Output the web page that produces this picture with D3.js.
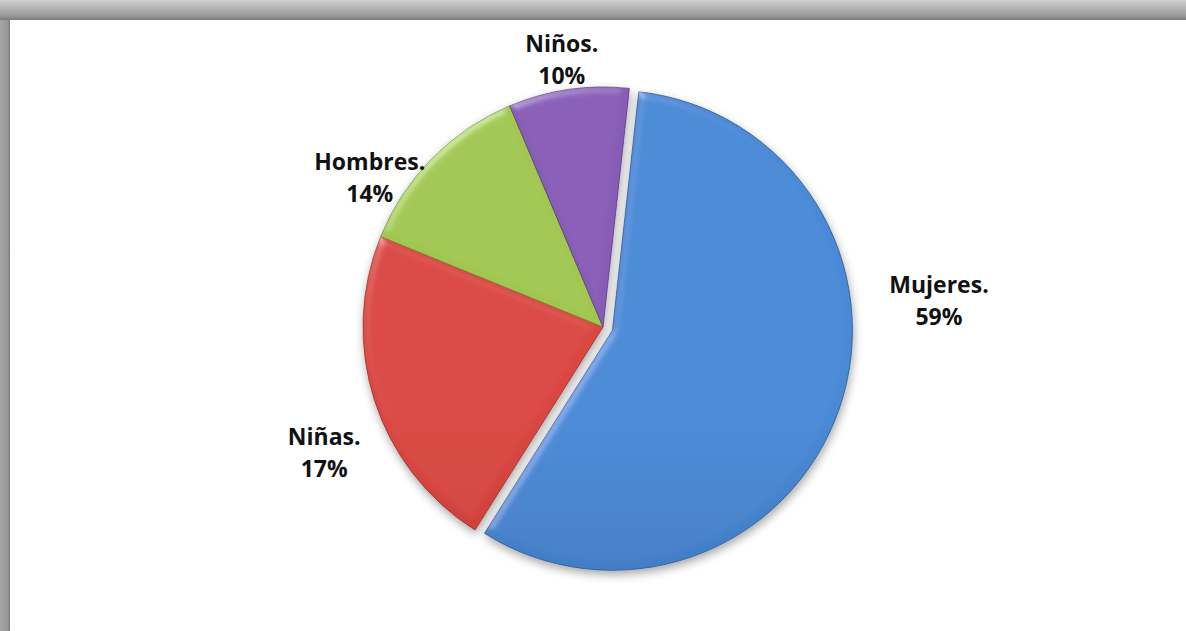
<!DOCTYPE html>
<html><head><meta charset="utf-8">
<script src="https://cdn.jsdelivr.net/npm/d3@7"></script>
<style>html,body{margin:0;padding:0;background:#fff;overflow:hidden}</style>
</head><body>
<script>
// ---- data (slice shares as drawn; printed percentage labels) ----
const categories = ["Mujeres.", "Niñas.", "Hombres.", "Niños."];
const values = [57.2, 22.2, 12.5, 8.1];
const pctLabels = ["59%", "17%", "14%", "10%"];

// ---- layout / style ----
const W = 1186, H = 631;
const cx = 603, cy = 327, R = 240;
const explode = [10, 0, 0, 0];
const colors = [
  ["#4889d6", "#3566a6"],
  ["#d94640", "#b93531"],
  ["#a2c751", "#86aa3a"],
  ["#875cb6", "#6a4596"]
];
const labelAngleShift = [-23.7, -6.5, -12, -0.5]; // degrees relative to slice mid-angle
const labelRadius = [337, 306, 277, 270];

const svg = d3.select("body").append("svg").attr("width", W).attr("height", H);
const defs = svg.append("defs");

// frame gradients
const gTop = defs.append("linearGradient").attr("id","gTop").attr("x1",0).attr("y1",0).attr("x2",0).attr("y2",1);
gTop.append("stop").attr("offset","0%").attr("stop-color","#d0d0d0");
gTop.append("stop").attr("offset","80%").attr("stop-color","#989898");
gTop.append("stop").attr("offset","100%").attr("stop-color","#7a7a7a");
const gLeft = defs.append("linearGradient").attr("id","gLeft").attr("x1",0).attr("y1",0).attr("x2",1).attr("y2",0);
gLeft.append("stop").attr("offset","0%").attr("stop-color","#a6a6a6");
gLeft.append("stop").attr("offset","75%").attr("stop-color","#979797");
gLeft.append("stop").attr("offset","100%").attr("stop-color","#7a7a7a");

svg.append("rect").attr("x",0).attr("y",0).attr("width",10).attr("height",H).attr("fill","url(#gLeft)");
svg.append("rect").attr("x",0).attr("y",0).attr("width",W).attr("height",20).attr("fill","url(#gTop)");
svg.append("rect").attr("x",10).attr("y",20).attr("width",W-10).attr("height",H-20).attr("fill","#fff");

// slice gradients
colors.forEach((c,i)=>{
  const g = defs.append("linearGradient").attr("id","sg"+i).attr("gradientUnits","userSpaceOnUse")
    .attr("x1",0).attr("y1",cy-R).attr("x2",0).attr("y2",cy+R);
  g.append("stop").attr("offset","0%").attr("stop-color",c[0]);
  g.append("stop").attr("offset","100%").attr("stop-color",c[1]);
});

// bevel filter
const bev = defs.append("filter").attr("id","bevel").attr("x","-10%").attr("y","-10%").attr("width","120%").attr("height","120%");
bev.append("feGaussianBlur").attr("in","SourceAlpha").attr("stdDeviation",4).attr("result","blur");
const spec = bev.append("feSpecularLighting").attr("in","blur").attr("surfaceScale",3)
  .attr("specularConstant",0.6).attr("specularExponent",30).attr("lighting-color","#ffffff").attr("result","spec");
spec.append("feDistantLight").attr("azimuth",235).attr("elevation",40);
bev.append("feComposite").attr("in","spec").attr("in2","SourceAlpha").attr("operator","in").attr("result","specIn");
bev.append("feComposite").attr("in","SourceGraphic").attr("in2","specIn").attr("operator","arithmetic")
  .attr("k1",0).attr("k2",1).attr("k3",0.35).attr("k4",0);

// shadow filter
const sh = defs.append("filter").attr("id","shadow").attr("x","-20%").attr("y","-20%").attr("width","140%").attr("height","140%");
sh.append("feGaussianBlur").attr("in","SourceAlpha").attr("stdDeviation",5);
sh.append("feOffset").attr("dx",1).attr("dy",4).attr("result","ob");
sh.append("feComponentTransfer").append("feFuncA").attr("type","linear").attr("slope",0.35);
const mg = sh.append("feMerge");
mg.append("feMergeNode");
mg.append("feMergeNode").attr("in","SourceGraphic");

const start = 6.3 * Math.PI / 180;
const pie = d3.pie().sort(null).startAngle(start).endAngle(start + 2*Math.PI);
const arcs = pie(values);
const arc = d3.arc().innerRadius(0).outerRadius(R);

const gPie = svg.append("g").attr("transform",`translate(${cx},${cy})`).attr("filter","url(#shadow)");
arcs.forEach((a,i)=>{
  const mid = (a.startAngle + a.endAngle)/2;
  const ox = Math.sin(mid)*explode[i], oy = -Math.cos(mid)*explode[i];
  gPie.append("path").attr("d", arc(a))
    .attr("transform",`translate(${ox},${oy})`)
    .attr("fill","url(#sg"+i+")")
    .attr("stroke", d3.color(colors[i][1]).darker(0.5))
    .attr("stroke-width",0.8)
    .attr("filter","url(#bevel)");
});

// labels
const gLab = svg.append("g").attr("transform",`translate(${cx},${cy})`);
arcs.forEach((a,i)=>{
  const mid = (a.startAngle + a.endAngle)/2 + labelAngleShift[i]*Math.PI/180;
  const x = Math.sin(mid)*labelRadius[i], y = -Math.cos(mid)*labelRadius[i];
  const t = gLab.append("text").attr("text-anchor","middle")
    .attr("font-family","'Open Sans', sans-serif").attr("font-weight",700).attr("font-size",23).attr("fill","#111");
  t.append("tspan").attr("x",x).attr("y",y-8).text(categories[i]);
  t.append("tspan").attr("x",x).attr("y",y+24).text(pctLabels[i]);
});
</script>
</body></html>
